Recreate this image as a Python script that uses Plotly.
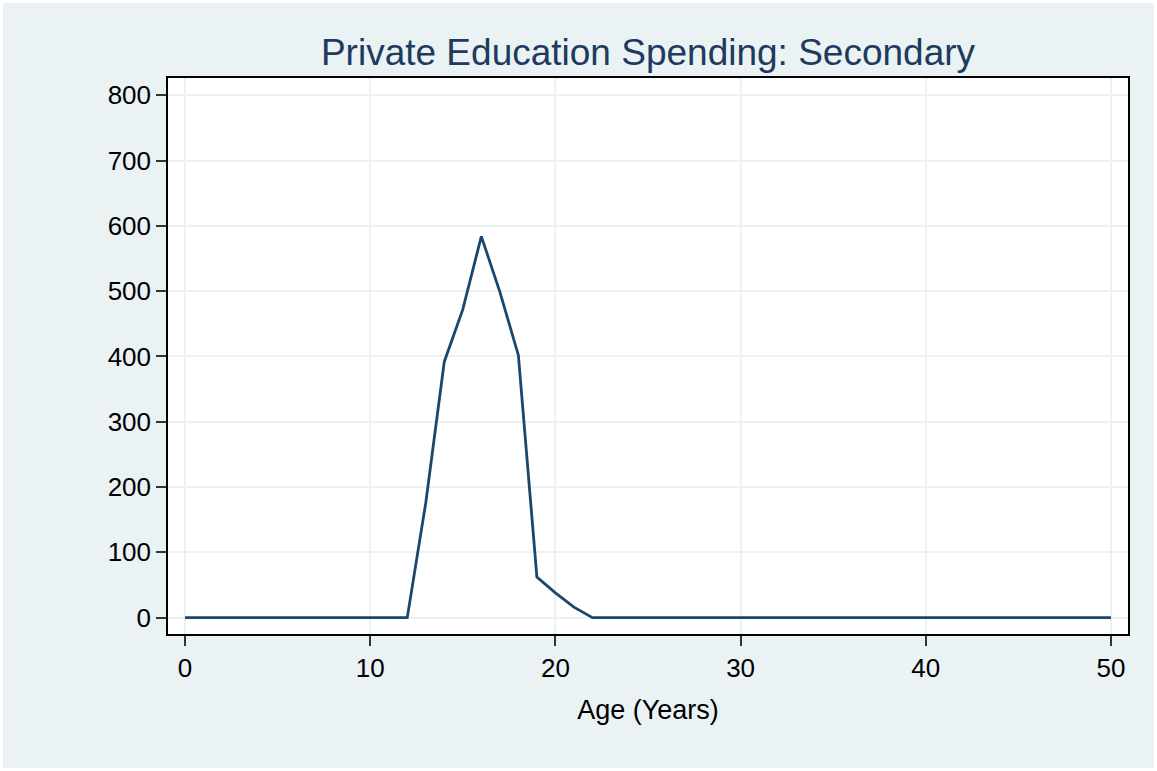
import plotly.graph_objects as go

ages = list(range(0, 51))
spending_nonzero = {12: 0, 13: 176, 14: 392, 15: 472, 16: 584, 17: 499, 18: 402,
                    19: 62, 20: 38, 21: 16, 22: 0}
spending = [spending_nonzero.get(a, 0) for a in ages]

x_ticks = [0, 10, 20, 30, 40, 50]
y_ticks = [0, 100, 200, 300, 400, 500, 600, 700, 800]

BG = "#EAF2F3"
GRID = "#EAF2F3"
FONT = "Liberation Sans, Arial, sans-serif"

fig = go.Figure()
fig.add_trace(go.Scatter(x=ages, y=spending, mode="lines",
                         line=dict(color="#1a476f", width=2.8), showlegend=False))

fig.update_layout(
    width=1157, height=771,
    paper_bgcolor=BG, plot_bgcolor="white",
    margin=dict(l=168, r=29, t=78, b=137),
    font=dict(family=FONT, size=26, color="black"),
    title=dict(text="Private Education Spending: Secondary",
               font=dict(family=FONT, size=37, color="#1e3a5e"),
               x=0.5, xref="paper", xanchor="center",
               y=1 - 52 / 771, yanchor="middle"),
    xaxis=dict(range=[-0.92, 50.92], tickvals=x_ticks, showgrid=True,
               gridcolor=GRID, gridwidth=2, zeroline=False,
               showline=True, linecolor="black", linewidth=1.5, mirror=True,
               ticks="outside", ticklen=10, tickwidth=1.5, tickcolor="#333",
               tickfont=dict(size=26),
               title=dict(text="Age (Years)", font=dict(size=27), standoff=18)),
    yaxis=dict(range=[-25.1, 826.5], tickvals=y_ticks, showgrid=True,
               gridcolor=GRID, gridwidth=2, zeroline=False,
               showline=True, linecolor="black", linewidth=1.5, mirror=True,
               ticks="outside", ticklen=10, tickwidth=1.5, tickcolor="#333",
               tickfont=dict(size=26)),
    shapes=[dict(type="rect", xref="paper", yref="paper",
                 x0=-168 / 960, x1=1 + 29 / 960,
                 y0=-137 / 556, y1=1 + 78 / 556,
                 line=dict(color="white", width=6), fillcolor="rgba(0,0,0,0)",
                 layer="above")],
)

fig.write_html("out.html", config={"displayModeBar": False},
               post_script="document.body.style.margin='0';document.body.style.overflow='hidden';")
